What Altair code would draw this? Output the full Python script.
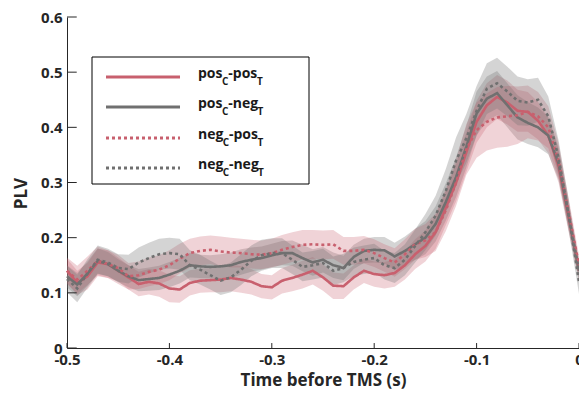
import altair as alt
import pandas as pd

# ---- data ----
times = [round(-0.50 + 0.01 * i, 2) for i in range(51)]

posC_posT = [0.140, 0.118, 0.130, 0.155, 0.152, 0.140, 0.128, 0.116, 0.120, 0.117,
             0.108, 0.106, 0.118, 0.122, 0.123, 0.124, 0.127, 0.124, 0.120, 0.112,
             0.110, 0.122, 0.127, 0.133, 0.140, 0.128, 0.113, 0.112, 0.128, 0.140,
             0.134, 0.132, 0.136, 0.150, 0.170, 0.185, 0.210, 0.255, 0.300, 0.355,
             0.410, 0.440, 0.455, 0.445, 0.430, 0.428, 0.412, 0.385, 0.330, 0.235, 0.140]
posC_negT = [0.130, 0.115, 0.135, 0.158, 0.152, 0.140, 0.130, 0.123, 0.125, 0.127,
             0.133, 0.140, 0.150, 0.148, 0.147, 0.148, 0.150, 0.156, 0.160, 0.163,
             0.168, 0.172, 0.172, 0.163, 0.155, 0.160, 0.150, 0.145, 0.165, 0.176,
             0.178, 0.177, 0.166, 0.176, 0.188, 0.200, 0.225, 0.265, 0.310, 0.365,
             0.425, 0.452, 0.462, 0.440, 0.418, 0.408, 0.400, 0.385, 0.335, 0.240, 0.140]
negC_posT = [0.140, 0.124, 0.140, 0.158, 0.152, 0.145, 0.130, 0.132, 0.138, 0.142,
             0.150, 0.162, 0.172, 0.176, 0.178, 0.175, 0.173, 0.172, 0.170, 0.169,
             0.172, 0.178, 0.183, 0.187, 0.188, 0.187, 0.188, 0.176, 0.176, 0.178,
             0.172, 0.163, 0.155, 0.170, 0.188, 0.195, 0.210, 0.250, 0.300, 0.360,
             0.395, 0.410, 0.418, 0.420, 0.422, 0.428, 0.420, 0.400, 0.340, 0.245, 0.150]
negC_negT = [0.125, 0.108, 0.135, 0.160, 0.155, 0.145, 0.143, 0.155, 0.163, 0.170,
             0.172, 0.170, 0.150, 0.142, 0.132, 0.122, 0.128, 0.142, 0.158, 0.168,
             0.172, 0.172, 0.160, 0.147, 0.150, 0.154, 0.140, 0.145, 0.156, 0.160,
             0.163, 0.150, 0.145, 0.160, 0.185, 0.210, 0.240, 0.285, 0.340, 0.380,
             0.430, 0.470, 0.480, 0.465, 0.448, 0.445, 0.450, 0.420, 0.345, 0.240, 0.120]

# half-widths of the shaded error bands
hw_posC_posT = [0.022, 0.022, 0.024, 0.025, 0.025, 0.024, 0.022, 0.022, 0.023, 0.024,
                0.025, 0.024, 0.023, 0.022, 0.022, 0.023, 0.024, 0.024, 0.023, 0.022,
                0.022, 0.023, 0.024, 0.025, 0.025, 0.024, 0.024, 0.023, 0.022, 0.022,
                0.023, 0.024, 0.025, 0.026, 0.027, 0.028, 0.030, 0.032, 0.034, 0.036,
                0.038, 0.040, 0.040, 0.040, 0.038, 0.036, 0.034, 0.032, 0.030, 0.026, 0.018]
hw_posC_negT = [0.020, 0.021, 0.022, 0.023, 0.022, 0.021, 0.020, 0.020, 0.021, 0.022,
                0.023, 0.023, 0.022, 0.021, 0.021, 0.022, 0.023, 0.023, 0.022, 0.021,
                0.021, 0.022, 0.023, 0.024, 0.024, 0.023, 0.023, 0.022, 0.022, 0.022,
                0.023, 0.024, 0.025, 0.026, 0.028, 0.030, 0.032, 0.034, 0.036, 0.038,
                0.040, 0.040, 0.040, 0.040, 0.040, 0.038, 0.036, 0.034, 0.030, 0.026, 0.018]
hw_negC_posT = [0.024, 0.025, 0.026, 0.026, 0.025, 0.024, 0.024, 0.025, 0.026, 0.026,
                0.027, 0.027, 0.026, 0.026, 0.026, 0.027, 0.027, 0.026, 0.026, 0.026,
                0.026, 0.027, 0.027, 0.027, 0.026, 0.026, 0.026, 0.025, 0.025, 0.025,
                0.025, 0.025, 0.026, 0.027, 0.028, 0.030, 0.034, 0.038, 0.042, 0.046,
                0.050, 0.052, 0.055, 0.055, 0.052, 0.048, 0.044, 0.038, 0.032, 0.026, 0.018]
hw_negC_negT = [0.024, 0.025, 0.026, 0.026, 0.025, 0.025, 0.026, 0.027, 0.028, 0.028,
                0.028, 0.028, 0.027, 0.027, 0.026, 0.026, 0.027, 0.028, 0.028, 0.028,
                0.027, 0.027, 0.026, 0.026, 0.026, 0.026, 0.026, 0.026, 0.026, 0.026,
                0.026, 0.026, 0.027, 0.028, 0.030, 0.033, 0.036, 0.040, 0.042, 0.044,
                0.045, 0.046, 0.046, 0.045, 0.044, 0.042, 0.040, 0.036, 0.032, 0.028, 0.022]

series_names = ["posC-posT", "posC-negT", "negC-posT", "negC-negT"]
series_vals = [posC_posT, posC_negT, negC_posT, negC_negT]
series_hw = [hw_posC_posT, hw_posC_negT, hw_negC_posT, hw_negC_negT]
series_colors = ["#c8606e", "#707070", "#c8606e", "#707070"]
series_dash = [[1, 0], [1, 0], [3, 3], [3, 3]]
legend_main = [("pos", "-pos"), ("pos", "-neg"), ("neg", "-pos"), ("neg", "-neg")]

x_ticks = [-0.5, -0.4, -0.3, -0.2, -0.1, 0.0]
y_ticks = [0.0, 0.1, 0.2, 0.3, 0.4, 0.5, 0.6]

rows = []
for name, vals, hws in zip(series_names, series_vals, series_hw):
    for t, v, h in zip(times, vals, hws):
        rows.append({"t": t, "v": v, "lo": v - h, "hi": v + h, "series": name})
df = pd.DataFrame(rows)

W, H = 512, 331
FONT = "Open Sans"
AX = "#262626"

xs = alt.Scale(domain=[-0.5, 0.0], nice=False, zero=False)
ys = alt.Scale(domain=[0.0, 0.6], nice=False)

x_axis = alt.Axis(values=x_ticks, tickSize=0, grid=False, labelPadding=4,
                  labelExpr="datum.value == 0 ? '0' : '-0.' + round(abs(datum.value) * 10)",
                  labelFontSize=15, labelFontWeight="bold", labelColor=AX, labelFont=FONT,
                  title="Time before TMS (s)", titleFontSize=17, titleFontWeight="bold",
                  titleColor=AX, titleFont=FONT, titlePadding=5,
                  domainColor=AX, labelFlush=False)
y_axis = alt.Axis(values=y_ticks, tickSize=0, grid=False, labelPadding=5,
                  labelExpr="datum.value == 0 ? '0' : format(datum.value, '.1f')",
                  labelFontSize=15, labelFontWeight="bold", labelColor=AX, labelFont=FONT,
                  title="PLV", titleFontSize=17, titleFontWeight="bold",
                  titleColor=AX, titleFont=FONT, titleX=-46, titleY=176,
                  titleAngle=-90, titleAlign="center", titleBaseline="middle",
                  domainColor=AX, labelFlush=False)

layers = []
# shaded bands
for name, col in zip(series_names, series_colors):
    layers.append(
        alt.Chart(df).transform_filter(alt.datum.series == name)
        .mark_area(color=col, opacity=0.28 if col != "#707070" else 0.30)
        .encode(x=alt.X("t:Q", scale=xs, axis=x_axis),
                y=alt.Y("lo:Q", scale=ys, axis=y_axis),
                y2="hi:Q")
    )
# mean lines
for name, col, dash in zip(series_names, series_colors, series_dash):
    layers.append(
        alt.Chart(df).transform_filter(alt.datum.series == name)
        .mark_line(color=col, strokeWidth=2.6, strokeDash=dash)
        .encode(x=alt.X("t:Q", scale=xs), y=alt.Y("v:Q", scale=ys))
    )

# inward tick marks (MATLAB style)
xt = pd.DataFrame({"t": x_ticks, "y0": [0.0] * len(x_ticks), "y1": [0.009] * len(x_ticks)})
yt = pd.DataFrame({"v": y_ticks, "x0": [-0.5] * len(y_ticks), "x1": [-0.4905] * len(y_ticks)})
layers.append(alt.Chart(xt).mark_rule(color=AX, strokeWidth=1)
              .encode(x=alt.X("t:Q", scale=xs), y=alt.Y("y0:Q", scale=ys), y2="y1:Q"))
layers.append(alt.Chart(yt).mark_rule(color=AX, strokeWidth=1)
              .encode(y=alt.Y("v:Q", scale=ys), x=alt.X("x0:Q", scale=xs), x2="x1:Q"))

# legend box
layers.append(alt.Chart(pd.DataFrame({"a": [0]})).mark_rect(fill="white", stroke="#000000", strokeWidth=1)
              .encode(x=alt.value(25), x2=alt.value(242), y=alt.value(40), y2=alt.value(167)))
row_y = [60, 90, 121, 151]
one = pd.DataFrame({"a": [0]})
w_main = {"pos": 24.1, "neg": 24.7, "-pos": 28.6, "-neg": 29.2}
for (m1, m2), col, dash, ry in zip(legend_main, series_colors, series_dash, row_y):
    layers.append(alt.Chart(one).mark_rule(color=col, strokeWidth=2.8, strokeDash=dash)
                  .encode(x=alt.value(39), x2=alt.value(113), y=alt.value(ry)))
    x0 = 131
    pieces = [(m1, 14, 0.5), ("C", 10, 8), (m2, 14, 0.5), ("T", 10, 8)]
    for txt, fs, dy in pieces:
        layers.append(alt.Chart(one).mark_text(text=txt, font=FONT, fontWeight="bold",
                                               fontSize=fs, align="left", baseline="alphabetic",
                                               color="#1a1a1a")
                      .encode(x=alt.value(x0), y=alt.value(ry + dy)))
        x0 += w_main.get(txt, 6.2)

chart = alt.layer(*layers).properties(
    width=W, height=H, autosize="none",
    padding={"left": 59, "top": 9, "right": 0, "bottom": 41}
).configure_view(stroke=None).configure_axis(domainWidth=1)

chart.save("out.html", embed_options={"renderer": "svg", "actions": False})
